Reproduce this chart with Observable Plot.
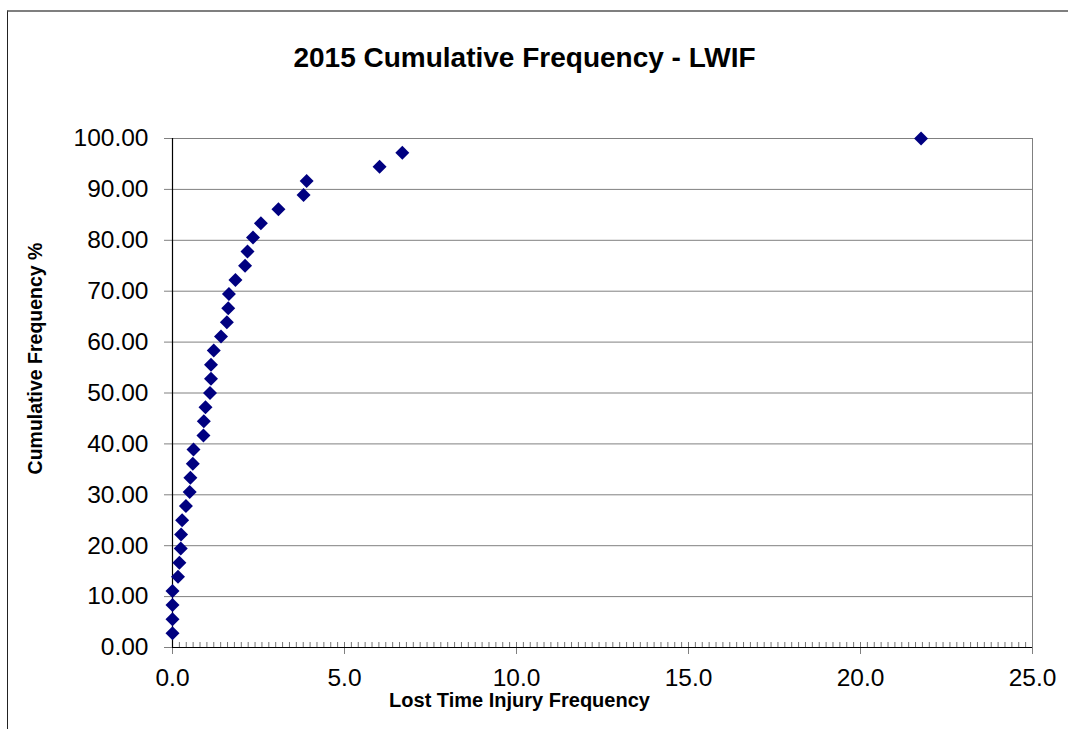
<!DOCTYPE html>
<html>
<head>
<meta charset="utf-8">
<script src="https://cdn.jsdelivr.net/npm/d3@7"></script>
<script src="https://cdn.jsdelivr.net/npm/@observablehq/plot@0.6"></script>
<style>
  html, body { margin: 0; padding: 0; background: #fff; }
  #wrap { position: relative; width: 1068px; height: 729px; overflow: hidden; background: #fff; }
  #border { position: absolute; left: 7px; top: 10px; width: 1200px; height: 800px;
            border-top: 2px solid #7f7f7f; border-left: 1px solid #222; box-sizing: border-box; }
  #chart { position: absolute; left: 0; top: 0; }
</style>
</head>
<body>
<div id="wrap"><div id="border"></div><div id="chart"></div></div>
<script>
// Lost Time Injury Frequency (x) vs cumulative frequency % (y)
const lwif = [0, 0, 0, 0, 0.16, 0.20, 0.24, 0.25, 0.28, 0.39, 0.50, 0.52, 0.59, 0.61,
  0.90, 0.91, 0.96, 1.09, 1.12, 1.12, 1.20, 1.41, 1.58, 1.62, 1.64, 1.83, 2.11, 2.18,
  2.34, 2.57, 3.08, 3.81, 3.90, 6.02, 6.68, 21.76];
const cumFreq = [2.78, 5.56, 8.33, 11.11, 13.89, 16.67, 19.44, 22.22, 25.00, 27.78,
  30.56, 33.33, 36.11, 38.89, 41.67, 44.44, 47.22, 50.00, 52.78, 55.56, 58.33, 61.11,
  63.89, 66.67, 69.44, 72.22, 75.00, 77.78, 80.56, 83.33, 86.11, 88.89, 91.67, 94.44,
  97.22, 100.00];
const yTicks = [0, 10, 20, 30, 40, 50, 60, 70, 80, 90, 100];
const xTicks = [0, 5, 10, 15, 20, 25];
const xMinorTicks = d3.range(0, 125).map(i => i / 5);
const titleText = "2015 Cumulative Frequency - LWIF";
const xTitle = "Lost Time Injury Frequency";
const yTitle = "Cumulative Frequency %";

const data = lwif.map((x, i) => ({x, y: cumFreq[i]}));

const W = 1068, H = 729;
const mL = 172, mR = 36, mT = 138, mB = 82;
const frameH = H - mT - mB;
const frameCx = (mL + (W - mR)) / 2;
const frameCy = (mT + (H - mB)) / 2;
const font = "'Liberation Sans', Arial, sans-serif";

const chart = Plot.plot({
  width: W,
  height: H,
  marginLeft: mL,
  marginRight: mR,
  marginTop: mT,
  marginBottom: mB,
  style: {fontFamily: font, fontSize: "24px", color: "#000", background: "transparent", overflow: "visible"},
  x: {domain: [0, 25]},
  y: {domain: [0, 100]},
  marks: [
    Plot.gridY(yTicks, {stroke: "#808080", strokeOpacity: 1, strokeWidth: 1}),
    Plot.ruleX([25], {stroke: "#808080", strokeWidth: 1}),
    Plot.ruleX(xMinorTicks, {x: d => d, insetTop: frameH - 5, stroke: "#777", strokeWidth: 1}),
    Plot.axisY(yTicks, {tickSize: 8, tickPadding: 16, tickFormat: d => d.toFixed(2),
      stroke: "#808080", fill: "#000", fontSize: 24.5, label: null}),
    Plot.axisX(xTicks, {tickSize: 7, tickPadding: 14, tickFormat: d => d.toFixed(1),
      stroke: "#808080", fill: "#000", fontSize: 24.5, label: null}),
    Plot.ruleX([0], {stroke: "#000", strokeWidth: 1.2}),
    Plot.ruleY([0], {stroke: "#000", strokeWidth: 1.2}),
    Plot.dot(data, {x: "x", y: "y", symbol: "diamond2", r: 6.3, fill: "#000080", stroke: "none"}),
    Plot.text([titleText], {frameAnchor: "top", dx: 524 - frameCx, dy: 58 - mT,
      textAnchor: "middle", lineAnchor: "middle", fontSize: 28, fontWeight: "bold", fill: "#000"}),
    Plot.text([xTitle], {frameAnchor: "bottom", dx: 519 - frameCx, dy: 700 - (H - mB),
      textAnchor: "middle", lineAnchor: "middle", fontSize: 20, fontWeight: "bold", fill: "#000"}),
    Plot.text([yTitle], {frameAnchor: "left", dx: 35 - mL, dy: 358 - frameCy, rotate: -90,
      textAnchor: "middle", lineAnchor: "middle", fontSize: 19.5, fontWeight: "bold", fill: "#000"})
  ]
});
document.getElementById("chart").appendChild(chart);
</script>
</body>
</html>
